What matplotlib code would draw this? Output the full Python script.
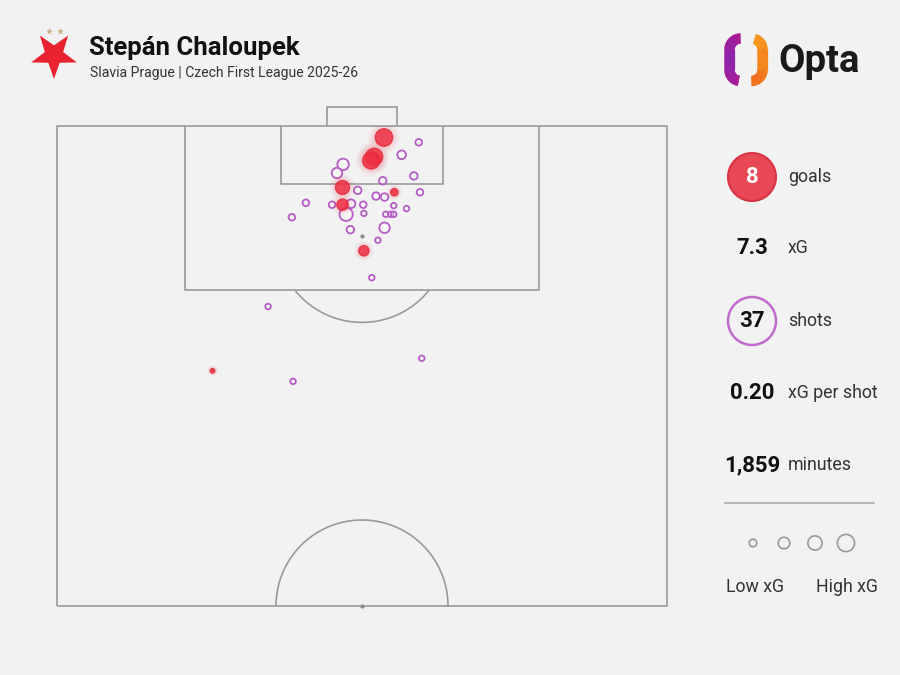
import numpy as np
import matplotlib
matplotlib.use("Agg")
import matplotlib.pyplot as plt
from matplotlib.patches import Circle, Polygon
from matplotlib.collections import LineCollection
from matplotlib.colors import to_rgb

plt.rcParams['font.family'] = ['Roboto', 'DejaVu Sans']

# Data (Opta pitch coords: x across 0-100, y along 50-100, goal at y=100)
player = 'Stepán Chaloupek'
subtitle = 'Slavia Prague | Czech First League 2025-26'

shot_x = [53.6, 52.0, 51.5, 46.8, 46.8, 55.3, 50.3, 25.5,
          59.3, 56.5, 46.9, 45.9, 58.5, 53.4, 49.3, 59.5, 52.3, 53.7,
          40.8, 45.1, 48.2, 50.2, 47.4, 50.3, 55.2, 57.3, 53.9, 54.7,
          55.2, 38.5, 53.7, 48.1, 52.6, 51.6, 34.6, 38.7, 59.8]
shot_y = [98.8, 96.8, 96.4, 93.6, 91.8, 93.1, 87.0, 74.5,
          98.3, 97.0, 96.0, 95.1, 94.8, 94.3, 93.3, 93.1, 92.7, 92.6,
          92.0, 91.8, 91.9, 91.8, 90.8, 90.9, 91.7, 91.4, 90.8, 90.8,
          90.8, 90.5, 89.4, 89.2, 88.1, 84.2, 81.2, 73.4, 75.8]
shot_xg = [0.71, 0.67, 0.67, 0.46, 0.30, 0.13, 0.25, 0.05,
           0.10, 0.17, 0.30, 0.25, 0.13, 0.13, 0.13, 0.10, 0.13, 0.13,
           0.10, 0.10, 0.17, 0.10, 0.40, 0.07, 0.07, 0.07, 0.07, 0.07,
           0.07, 0.10, 0.25, 0.13, 0.07, 0.07, 0.07, 0.07, 0.07]
shot_goal = [1, 1, 1, 1, 1, 1, 1, 1] + [0] * 29

stat_values = ['8', '7.3', '37', '0.20', '1,859']
stat_labels = ['goals', 'xG', 'shots', 'xG per shot', 'minutes']
legend_xg = [0.13, 0.30, 0.46, 0.67]

BG = '#F2F2F2'
LINE = '#9A9A9A'
RED = '#EE2D40'
PURPLE = '#B65CC6'

fig = plt.figure(figsize=(9, 6.75), dpi=100, facecolor=BG)

# overlay axes in pixel coords for header, logo and side panel
deco = fig.add_axes([0, 0, 1, 1])
deco.set_xlim(0, 900)
deco.set_ylim(675, 0)
deco.axis('off')
deco.patch.set_alpha(0)

# club star (point down) + two small gold stars
cx, cy, R = 54, 55, 24
ang = np.deg2rad(90 + np.arange(10) * 36)
rad = np.where(np.arange(10) % 2 == 0, R, R * 0.40)
deco.add_patch(Polygon(np.c_[cx + rad * np.cos(ang), cy + rad * np.sin(ang)],
                       closed=True, color='#E8222F', lw=0))
deco.scatter([48.5, 60], [30.5, 30.5], marker='*', s=28, color='#C9AE86', lw=0)

deco.text(89, 48.5, player, fontsize=18.5, fontweight='bold', color='#111111',
          va='center', ha='left')
deco.text(90, 72.5, subtitle, fontsize=10.1, color='#333333', va='center', ha='left')

# Opta logo
x0, y0, x1, y1, r = 729.5, 38.5, 762.5, 81, 11
pts = []
for (ccx, ccy, a0, a1) in [(x0 + r, y0 + r, 180, 270), (x1 - r, y0 + r, 270, 360),
                           (x1 - r, y1 - r, 0, 90), (x0 + r, y1 - r, 90, 180)]:
    t = np.deg2rad(np.linspace(a0, a1, 40))
    pts.append(np.c_[ccx + r * np.cos(t), ccy + r * np.sin(t)])
pts = np.vstack(pts)
mx, my = (x0 + x1) / 2, (y0 + y1) / 2
a = np.degrees(np.arctan2(-(pts[:, 1] - my), pts[:, 0] - mx)) % 360


def piece(mask, key, c0, c1, lo, hi, axis):
    p = pts[mask]
    p = p[np.argsort(key[mask])]
    c0, c1 = np.array(to_rgb(c0)), np.array(to_rgb(c1))
    deco.plot(p[:, 0], p[:, 1], color=(c0 + c1) / 2, lw=7.4,
              solid_capstyle='butt', solid_joinstyle='round')
    segs = np.stack([p[:-1], p[1:]], axis=1)
    f = np.clip((segs.mean(axis=1)[:, axis] - lo) / (hi - lo), 0, 1)[:, None]
    deco.add_collection(LineCollection(segs, colors=(1 - f) * c0 + f * c1,
                                       linewidths=7.4, capstyle='butt'))


piece((a >= 79) & (a <= 252), a, '#8E24AA', '#D0147C', 729, 750, 0)
piece((a >= 264) | (a <= 68), (a + 100) % 360, '#F8A11D', '#F26A22', 40, 81, 1)
deco.text(778, 61, 'Opta', fontsize=27.5, fontweight='bold', color='#1A1A1A',
          va='center', ha='left')

# side panel
ys = [177, 248, 321, 393, 465]
deco.add_patch(Circle((752, ys[0]), 24, facecolor='#E84755', edgecolor='#D93444', lw=1.5))
deco.add_patch(Circle((752, ys[2]), 24, facecolor=BG, edgecolor='#C06BCC', lw=1.8))
for i, (v, lab) in enumerate(zip(stat_values, stat_labels)):
    deco.text(752, ys[i], v, fontsize=16, fontweight='bold',
              color='white' if i == 0 else '#111111', ha='center', va='center')
    deco.text(788, ys[i], lab, fontsize=12.8, color='#333333', ha='left', va='center')

deco.plot([725, 874], [503, 503], color='#AAAAAA', lw=1.2)
for lx, g in zip([753, 784, 815, 846], legend_xg):
    deco.add_patch(Circle((lx, 543), 10.5 * np.sqrt(g), facecolor='none',
                          edgecolor='#9A9A9A', lw=1.2))
deco.text(755, 587, 'Low xG', fontsize=12.8, color='#333333', ha='center', va='center')
deco.text(847, 587, 'High xG', fontsize=12.8, color='#333333', ha='center', va='center')

# pitch
ax = fig.add_axes([57 / 900, 69 / 675, 610 / 900, 480 / 675])
ax.set_xlim(0, 100)
ax.set_ylim(50, 100)
ax.axis('off')
ax.patch.set_alpha(0)

kw = dict(color=LINE, lw=1.2, clip_on=False, solid_capstyle='butt', zorder=1)
ax.plot([0, 100, 100, 0, 0], [50, 50, 100, 100, 50], **kw)
ax.plot([21.0, 21.0, 79.0, 79.0], [100, 82.9, 82.9, 100], **kw)
ax.plot([36.7, 36.7, 63.3, 63.3], [100, 94.0, 94.0, 100], **kw)
ax.plot([44.3, 44.3, 55.7, 55.7], [100, 102.0, 102.0, 100], **kw)

rx, ry = 86 / 6.1, 86 / 9.6
th = np.linspace(0, 2 * np.pi, 400)
ex, ey = 50 + rx * np.cos(th), 88.5 + ry * np.sin(th)
ex[ey > 82.9] = np.nan
ax.plot(ex, ey, **kw)
th = np.linspace(0, np.pi, 200)
ax.plot(50 + rx * np.cos(th), 50 + ry * np.sin(th), **kw)
ax.scatter([50, 50], [88.5, 50], s=4, color='#8A8A8A', zorder=2, clip_on=False)

sx, sy = np.array(shot_x), np.array(shot_y)
xg, goal = np.array(shot_xg), np.array(shot_goal, dtype=bool)
size = (2 * 10.5 * np.sqrt(xg) * 0.72) ** 2

ax.scatter(sx[~goal], sy[~goal], s=size[~goal], facecolor=(1, 1, 1, 0.35),
           edgecolor=PURPLE, lw=1.3, zorder=3)
# soft glow behind goals
for k, al in [(3.2, 0.04), (2.3, 0.05), (1.6, 0.06)]:
    ax.scatter(sx[goal], sy[goal], s=size[goal] * k + 20, color=RED, alpha=al,
               lw=0, zorder=4)
ax.scatter(sx[goal], sy[goal], s=size[goal], facecolor=RED, alpha=0.85,
           edgecolor='#E3283A', lw=0.8, zorder=5)

fig.savefig('out.png', dpi=100, facecolor=BG)
